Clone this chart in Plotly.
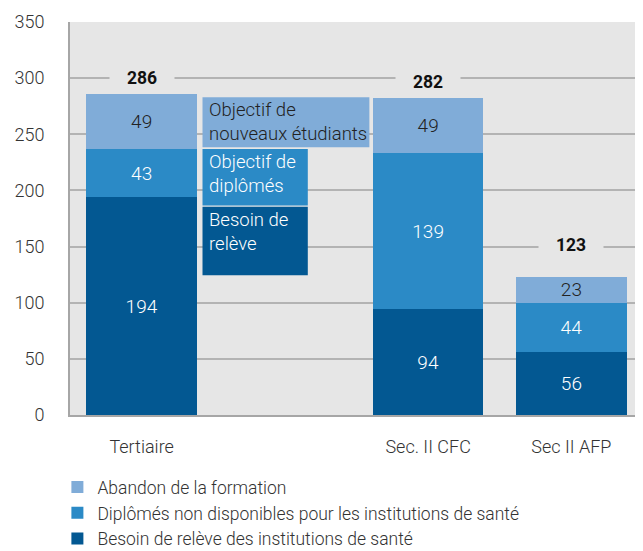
import plotly.graph_objects as go

categories = ["Tertiaire", " ", "Sec. II CFC", "Sec II AFP"]
besoin = [194, None, 94, 56]
diplomes = [43, None, 139, 44]
abandon = [49, None, 49, 23]
totals = [286, None, 282, 123]
total_label_y = [300, None, 296.5, 151]

series_names = [
    "Besoin de relève des institutions de santé",
    "Diplômés non disponibles pour les institutions de santé",
    "Abandon de la formation",
]
colors = ["#035892", "#2b8ac6", "#80acd8"]
text_colors = ["#ffffff", "#ffffff", "#222222"]

# explanatory boxes in the empty category slot
box_labels = ["Besoin de<br>relève", "Objectif de<br>diplômés", "Objectif de<br>nouveaux étudiants"]
box_y0 = [124.5, 186.5, 238.5]
box_y1 = [185.5, 237.0, 283.0]
box_x1 = [1.16, 1.16, 1.59]
box_x0 = 0.425

FONT = "Roboto"

fig = go.Figure()
for vals, name, col, tc in zip([besoin, diplomes, abandon], series_names, colors, text_colors):
    fig.add_trace(go.Bar(
        x=categories, y=vals, name=name,
        marker=dict(color=col, line=dict(width=0)),
        width=0.77,
        text=vals, texttemplate="%{y}", textposition="inside",
        insidetextanchor="middle", textangle=0, constraintext="none",
        textfont=dict(family=FONT, size=19, color=tc, weight=300),
        hoverinfo="skip",
    ))

shapes = []
annotations = []
for i, (lab, y0, y1, x1) in enumerate(zip(box_labels, box_y0, box_y1, box_x1)):
    shapes.append(dict(type="rect", xref="x", yref="y", x0=box_x0, x1=x1, y0=y0, y1=y1,
                       fillcolor=colors[i], line=dict(width=0), layer="above"))
    annotations.append(dict(x=box_x0, y=y1, xref="x", yref="y", xanchor="left", yanchor="top",
                            xshift=4, yshift=0, text=lab, showarrow=False, align="left",
                            font=dict(family=FONT, size=18.5, color=text_colors[i], weight=300)))

for cat, t, ty in zip(categories, totals, total_label_y):
    if t is None:
        continue
    annotations.append(dict(x=cat, y=ty, xref="x", yref="y", text="<b>%d</b>" % t,
                            showarrow=False, bgcolor="#e6e6e6", width=62, height=20,
                            font=dict(family=FONT, size=17.5, color="#111111")))

# page body has an 8px default margin, so the figure is sized/margined to compensate
fig.update_layout(
    barmode="stack",
    width=635, height=543,
    margin=dict(l=62, r=0, t=14, b=136, autoexpand=False),
    paper_bgcolor="white", plot_bgcolor="#e6e6e6",
    font=dict(family=FONT, size=18, color="#333333", weight=300),
    shapes=shapes, annotations=annotations,
    showlegend=True,
    legend=dict(orientation="v", x=-0.022, y=-0.138, xanchor="left", yanchor="top",
                traceorder="reversed", font=dict(family=FONT, size=17.5, color="#333333", weight=300),
                itemwidth=30, tracegroupgap=0, bgcolor="rgba(0,0,0,0)"),
)
fig.update_xaxes(
    range=[-0.5, 3.5], showline=True, linecolor="#a6a6a6", linewidth=2, automargin=False,
    ticks="", ticklabelstandoff=14, tickfont=dict(family=FONT, size=18, color="#333333", weight=300),
)
fig.update_yaxes(
    range=[0, 350], dtick=50, showline=True, linecolor="#a6a6a6", linewidth=2, automargin=False,
    gridcolor="#b3b3b3", gridwidth=1.5, zeroline=False, ticks="",
    ticklabelstandoff=20, tickfont=dict(family=FONT, size=18, color="#333333", weight=300),
)

fig.write_html("out.html")
